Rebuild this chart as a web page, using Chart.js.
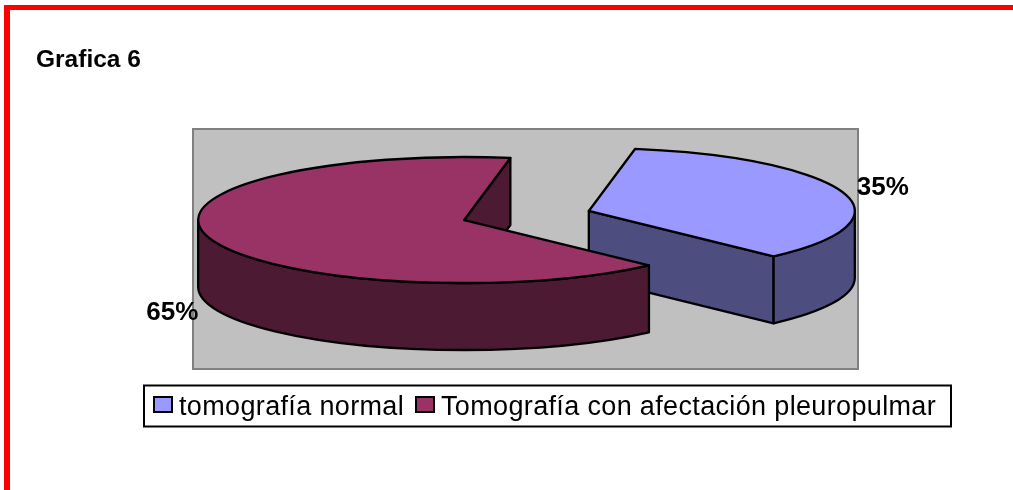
<!DOCTYPE html>
<html>
<head>
<meta charset="utf-8">
<title>Grafica 6</title>
<script src="https://cdn.jsdelivr.net/npm/chart.js@4"></script>
<style>
  html, body { margin: 0; padding: 0; background: #fff; overflow: hidden; }
  canvas { display: block; }
</style>
</head>
<body>
<canvas id="chartPie" width="1013" height="490"></canvas>
<script>
const chartTitle = "Grafica 6";
const categories = ["tomografía normal", "Tomografía con afectación pleuropulmar"];
const values = [35, 65];
const topColors = ["#9999FF", "#993366"];
const sideColors = ["#4D4D80", "#4D1A33"];

const FONT = '"Liberation Sans", Arial, sans-serif';
const radiusX = 266;     // the pie is flattened into an ellipse
const radiusY = 63;
const depth = 67;
const explode = 0.245;   // how far slices leave the centre, in radii
const labelShift = [[51, -7], [-49, 73]];  // percent labels, from the slice rim

// side wall of a slice, between two angles on the rim
function wall(ctx, cx, cy, from, to) {
  ctx.beginPath();
  ctx.ellipse(cx, cy, radiusX, radiusY, 0, from, to);
  ctx.ellipse(cx, cy + depth, radiusX, radiusY, 0, to, from, true);
  ctx.closePath();
  ctx.fill();
  ctx.stroke();
}

// flat cut face going from the centre to the rim
function cutFace(ctx, cx, cy, angle) {
  const x = cx + radiusX * Math.cos(angle);
  const y = cy + radiusY * Math.sin(angle);
  ctx.beginPath();
  ctx.moveTo(cx, cy);
  ctx.lineTo(x, y);
  ctx.lineTo(x, y + depth);
  ctx.lineTo(cx, cy + depth);
  ctx.closePath();
  ctx.fill();
  ctx.stroke();
}

function sliceCentre(arc) {
  const mid = (arc.startAngle + arc.endAngle) / 2;
  return {
    mid: mid,
    x: arc.x + 1 + explode * radiusX * Math.cos(mid),
    y: arc.y - depth / 2 + explode * radiusY * Math.sin(mid)
  };
}

const pie3d = {
  id: "pie3d",
  beforeDraw(chart) {
    const ctx = chart.ctx;
    const area = chart.chartArea;
    // red frame of the page
    ctx.fillStyle = "#FF0000";
    ctx.fillRect(5, 5, 1008, 5);
    ctx.fillRect(4, 5, 6, 485);
    // title
    ctx.fillStyle = "#000";
    ctx.font = "bold 24.5px " + FONT;
    ctx.textAlign = "left";
    ctx.textBaseline = "alphabetic";
    ctx.fillText(chartTitle, 36, 67);
    // grey plot panel
    ctx.fillStyle = "#C0C0C0";
    ctx.fillRect(area.left, area.top, area.width, area.height);
    ctx.strokeStyle = "#808080";
    ctx.lineWidth = 2;
    ctx.strokeRect(area.left, area.top, area.width, area.height);
  },
  beforeDatasetsDraw(chart) {
    const ctx = chart.ctx;
    const arcs = chart.getDatasetMeta(0).data;
    ctx.save();
    ctx.lineWidth = 2.3;
    ctx.strokeStyle = "#000";
    ctx.lineJoin = "round";
    arcs.forEach((arc, i) => {
      const c = sliceCentre(arc);
      const start = arc.startAngle;
      const end = arc.endAngle;
      ctx.fillStyle = sideColors[i];
      // only faces turned to the viewer are drawn
      if (Math.sin(start - Math.PI / 2) > 0) cutFace(ctx, c.x, c.y, start);
      if (Math.sin(end + Math.PI / 2) > 0) cutFace(ctx, c.x, c.y, end);
      const from = Math.max(start, 0);
      const to = Math.min(end, Math.PI);
      if (to > from) wall(ctx, c.x, c.y, from, to);
      ctx.fillStyle = topColors[i];
      ctx.beginPath();
      ctx.moveTo(c.x, c.y);
      ctx.ellipse(c.x, c.y, radiusX, radiusY, 0, start, end);
      ctx.closePath();
      ctx.fill();
      ctx.stroke();
    });
    ctx.restore();
    return false;
  },
  afterDraw(chart) {
    const ctx = chart.ctx;
    const arcs = chart.getDatasetMeta(0).data;
    const total = values.reduce((a, b) => a + b, 0);
    ctx.save();
    // percent labels
    ctx.fillStyle = "#000";
    ctx.font = "bold 26px " + FONT;
    ctx.textAlign = "center";
    ctx.textBaseline = "alphabetic";
    arcs.forEach((arc, i) => {
      const c = sliceCentre(arc);
      const x = c.x + radiusX * 0.955 * Math.cos(c.mid) + labelShift[i][0];
      const y = c.y + radiusY * 0.955 * Math.sin(c.mid) + labelShift[i][1];
      ctx.fillText(Math.round(values[i] / total * 100) + "%", x, y + 9);
    });
    // legend box
    ctx.fillStyle = "#fff";
    ctx.strokeStyle = "#000";
    ctx.lineWidth = 2;
    ctx.fillRect(144, 385.5, 807, 41);
    ctx.strokeRect(144, 385.5, 807, 41);
    ctx.font = "27px " + FONT;
    ctx.letterSpacing = "0.35px";
    ctx.textAlign = "left";
    const swatchX = [154, 416];
    categories.forEach((name, i) => {
      ctx.fillStyle = topColors[i];
      ctx.fillRect(swatchX[i], 397, 18, 15);
      ctx.strokeRect(swatchX[i], 397, 18, 15);
      ctx.fillStyle = "#000";
      ctx.fillText(name, swatchX[i] + 25, 415);
    });
    ctx.restore();
  }
};

const pieChart = new Chart(document.getElementById("chartPie"), {
  type: "pie",
  data: {
    labels: categories,
    datasets: [{ data: values, backgroundColor: topColors, borderWidth: 0 }]
  },
  options: {
    responsive: false,
    animation: false,
    rotation: 10,
    layout: { padding: { left: 193, top: 129, right: 155, bottom: 121 } },
    plugins: { legend: { display: false }, tooltip: { enabled: false } }
  },
  plugins: [pie3d]
});
</script>
</body>
</html>
